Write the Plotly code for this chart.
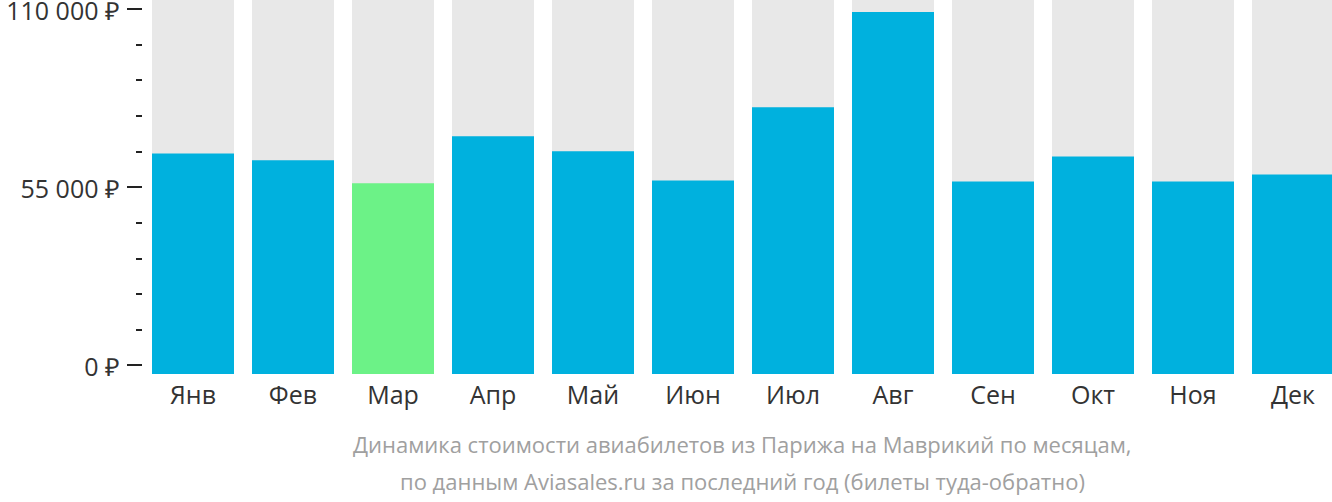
import plotly.graph_objects as go

months = ["Янв", "Фев", "Мар", "Апр", "Май", "Июн", "Июл", "Авг", "Сен", "Окт", "Ноя", "Дек"]
prices = [65400, 63300, 56200, 70700, 66100, 57100, 79700, 109100, 56800, 64500, 56800, 58900]
cheapest_month = "Мар"
tick_values = [0, 55000, 110000]
tick_labels = ["0 ₽", "55 000 ₽", "110 000 ₽"]
caption_lines = [
    "Динамика стоимости авиабилетов из Парижа на Маврикий по месяцам,",
    "по данным Aviasales.ru за последний год (билеты туда-обратно)",
]

Y_MIN = -2630
Y_MAX = 112780
BLUE = "#00b1de"
GREEN = "#6cf287"
GRAY = "#e8e8e8"

colors = [GREEN if m == cheapest_month else BLUE for m in months]

fig = go.Figure()
fig.add_trace(go.Bar(
    x=months, y=[Y_MAX - Y_MIN] * len(months), base=Y_MIN,
    marker=dict(color=GRAY, line=dict(width=0)), hoverinfo="skip", showlegend=False,
))
fig.add_trace(go.Bar(
    x=months, y=[p - Y_MIN for p in prices], base=Y_MIN,
    marker=dict(color=colors, line=dict(width=0)), showlegend=False,
    customdata=prices, hovertemplate="%{x}: %{customdata} ₽<extra></extra>",
))

fig.update_layout(
    width=1332, height=502,
    margin=dict(l=143, r=0, t=0, b=128, pad=0),
    paper_bgcolor="white", plot_bgcolor="white",
    barmode="overlay", bargap=0.18,
    font=dict(family="Open Sans", size=22, color="#333333"),
    xaxis=dict(
        range=[-0.5, 11.39], showgrid=False, zeroline=False, showline=False,
        ticks="", tickfont=dict(size=25, color="#333333"), fixedrange=True,
        ticklabelstandoff=4, automargin=False,
    ),
    yaxis=dict(
        range=[Y_MIN, Y_MAX], showgrid=False, zeroline=False, showline=False,
        tickvals=tick_values, ticktext=tick_labels,
        ticks="outside", ticklen=15, tickwidth=2, tickcolor="#222222",
        ticklabelstandoff=2, ticklabelshift=2, ticklabeloverflow="allow", automargin=False,
        tickfont=dict(size=25, color="#333333"),
        minor=dict(tickvals=[11000 * i for i in range(11)], ticks="outside",
                   ticklen=6, tickwidth=2, tickcolor="#222222"),
        fixedrange=True,
    ),
    annotations=[
        dict(text=caption_lines[0], xref="paper", yref="paper", x=(742 - 143) / 1189, y=(373 - 443) / 373,
             xanchor="center", yanchor="middle", showarrow=False,
             font=dict(family="Open Sans", size=22, color="#a0a0a0")),
        dict(text=caption_lines[1], xref="paper", yref="paper", x=(742 - 143) / 1189, y=(373 - 480) / 373,
             xanchor="center", yanchor="middle", showarrow=False,
             font=dict(family="Open Sans", size=22, color="#a0a0a0")),
    ],
)

fig.write_html("out.html")
